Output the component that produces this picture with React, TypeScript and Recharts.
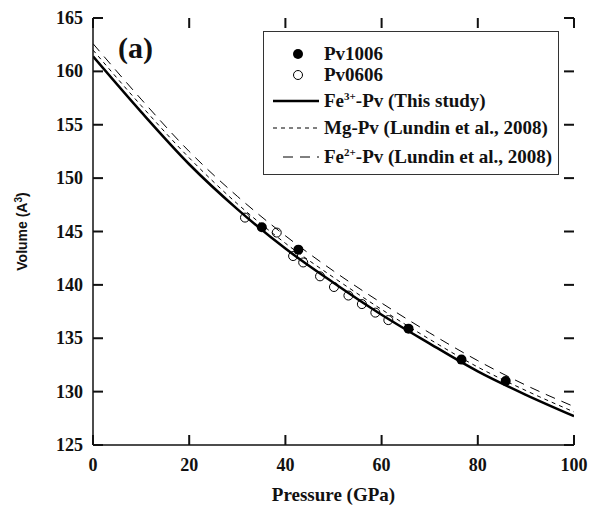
import {
  ComposedChart,
  Label,
  Legend,
  Line,
  Scatter,
  XAxis,
  YAxis,
} from 'recharts'

const pressureGrid = [0, 10, 20, 30, 40, 50, 60, 70, 80, 90, 100]
const fe3Volume = [161.4, 156.2, 151.3, 147.1, 143.4, 140.2, 137.2, 134.5, 131.9, 129.7, 127.7]
const mgVolume = [162.0, 156.8, 151.9, 147.6, 143.9, 140.7, 137.7, 134.9, 132.3, 130.1, 128.1]
const fe2Volume = [162.6, 157.4, 152.5, 148.3, 144.6, 141.3, 138.3, 135.5, 132.9, 130.6, 128.6]

const pv1006Pressure = [35.1, 42.7, 65.6, 76.6, 85.8]
const pv1006Volume = [145.4, 143.3, 135.9, 133.0, 131.0]

const pv0606Pressure = [31.6, 38.2, 41.6, 43.7, 47.2, 50.1, 53.1, 55.9, 58.7, 61.4]
const pv0606Volume = [146.3, 144.9, 142.7, 142.1, 140.8, 139.8, 139.0, 138.2, 137.4, 136.7]

const xTicks = [0, 20, 40, 60, 80, 100]
const yTicks = [125, 130, 135, 140, 145, 150, 155, 160, 165]

const curve = (vols: number[]) => pressureGrid.map((p, i) => ({ p, v: vols[i] }))
const points = (ps: number[], vs: number[]) => ps.map((p, i) => ({ p, v: vs[i] }))

const W = 594
const H = 513
const margin = { top: 18, right: 20, bottom: 8, left: 43 }
const Y_W = 50
const X_H = 60
const plotLeft = margin.left + Y_W
const plotRight = W - margin.right
const plotTop = margin.top
const plotBottom = H - margin.bottom - X_H

const serif = 'Liberation Serif'
const INK = '#111'
const TICK = 10
const TW = 2

// inward tick marks on all four sides, drawn from the bottom/left axes' ticks
const bottomTick = ({ x, y, payload }: any) => {
  const cx = Number(x)
  return (
    <g>
      <rect x={cx - TW / 2} y={plotBottom - TICK} width={TW} height={TICK} fill={INK} />
      <rect x={cx - TW / 2} y={plotTop} width={TW} height={TICK} fill={INK} />
      <text x={cx} y={Number(y) + 2} textAnchor="middle" fontFamily={serif} fontWeight="bold" fontSize={18} fill={INK}>
        {payload.value}
      </text>
    </g>
  )
}
const leftTick = ({ x, y, payload }: any) => {
  const cy = Number(y)
  return (
    <g>
      <rect x={plotLeft} y={cy - TW / 2} width={TICK} height={TW} fill={INK} />
      <rect x={plotRight - TICK} y={cy - TW / 2} width={TICK} height={TW} fill={INK} />
      <text x={Number(x)} y={cy + 6} textAnchor="end" fontFamily={serif} fontWeight="bold" fontSize={18} fill={INK}>
        {payload.value}
      </text>
    </g>
  )
}

const supStyle = { fontSize: 11, lineHeight: 0, verticalAlign: 'super' } as const

const legendRows = [
  { top: 22, kind: 'filled', text: <>Pv1006</> },
  { top: 43, kind: 'open', text: <>Pv0606</> },
  { top: 69, kind: 'solid', text: <>Fe<span style={supStyle}>3+</span>-Pv (This study)</> },
  { top: 96, kind: 'short', text: <>Mg-Pv (Lundin et al., 2008)</> },
  { top: 125, kind: 'long', text: <>Fe<span style={supStyle}>2+</span>-Pv (Lundin et al., 2008)</> },
]

function LegendBox() {
  return (
    <div
      style={{
        position: 'relative',
        width: 296,
        height: 144,
        boxSizing: 'border-box',
        border: '1.5px solid #333',
        background: '#fff',
        fontFamily: serif,
        fontWeight: 'bold',
        fontSize: 19,
        color: INK,
      }}
    >
      {legendRows.map((r) => (
        <div key={r.top} style={{ position: 'absolute', left: 0, top: r.top - 12, height: 24, width: 294 }}>
          <svg width={60} height={24} style={{ position: 'absolute', left: 0, top: 0 }}>
            {r.kind === 'filled' && <circle cx={34} cy={12} r={5} fill="#000" />}
            {r.kind === 'open' && <circle cx={34} cy={12} r={4.5} fill="#fff" stroke="#000" strokeWidth={1} />}
            {r.kind === 'solid' && <line x1={9} x2={55} y1={12} y2={12} stroke="#000" strokeWidth={2.5} />}
            {r.kind === 'short' && <line x1={9} x2={55} y1={12} y2={12} stroke="#000" strokeWidth={1} strokeDasharray="4 4" />}
            {r.kind === 'long' && <line x1={19} x2={55} y1={12} y2={12} stroke="#000" strokeWidth={1} strokeDasharray="10 7" />}
          </svg>
          <span style={{ position: 'absolute', left: 60, top: 0, lineHeight: '24px', whiteSpace: 'nowrap' }}>
            {r.text}
          </span>
        </div>
      ))}
    </div>
  )
}

export default function App() {
  return (
    <div style={{ position: 'absolute', left: 0, top: 0, width: W, height: H, background: '#fff' }}>
      <ComposedChart width={W} height={H} margin={margin}>
        <XAxis
          dataKey="p"
          type="number"
          domain={[0, 100]}
          ticks={xTicks}
          allowDataOverflow
          tickSize={0}
          tickMargin={24}
          height={X_H}
          tick={bottomTick}
          axisLine={{ stroke: INK, strokeWidth: 1.5 }}
        >
          <Label
            value="Pressure (GPa)"
            position="insideBottom"
            offset={4}
            style={{ fontFamily: serif, fontWeight: 'bold', fontSize: 19, fill: INK }}
          />
        </XAxis>
        <XAxis
          xAxisId="top"
          orientation="top"
          type="number"
          domain={[0, 100]}
          ticks={xTicks}
          height={0}
          tick={false}
          tickLine={false}
          axisLine={{ stroke: INK, strokeWidth: 1.5 }}
        />
        <YAxis
          type="number"
          domain={[125, 165]}
          ticks={yTicks}
          allowDataOverflow
          width={Y_W}
          tickSize={0}
          tickMargin={10}
          tick={leftTick}
          axisLine={{ stroke: INK, strokeWidth: 1.5 }}
        >
          <Label
            content={({ viewBox }: any) => {
              const cx = viewBox.x - 16
              const cy = viewBox.y + viewBox.height / 2
              return (
                <text
                  x={cx}
                  y={cy}
                  transform={`rotate(-90, ${cx}, ${cy})`}
                  textAnchor="middle"
                  style={{ fontFamily: 'Liberation Sans', fontWeight: 'bold', fontSize: 14, fill: INK }}
                >
                  Volume (A<tspan dy={-5} fontSize={10}>3</tspan><tspan dy={5}>)</tspan>
                </text>
              )
            }}
          />
        </YAxis>
        <YAxis
          yAxisId="right"
          orientation="right"
          type="number"
          domain={[125, 165]}
          ticks={yTicks}
          width={0}
          tick={false}
          tickLine={false}
          axisLine={{ stroke: INK, strokeWidth: 1.5 }}
        />
        <Legend
          layout="vertical"
          align="center"
          verticalAlign="middle"
          wrapperStyle={{ left: 263, top: 31, width: 296, height: 144 }}
          content={() => <LegendBox />}
        />
        <Line
          data={curve(fe2Volume)}
          dataKey="v"
          type="monotone"
          stroke="#000"
          strokeWidth={1}
          strokeDasharray="10 7"
          dot={false}
          isAnimationActive={false}
        />
        <Line
          data={curve(mgVolume)}
          dataKey="v"
          type="monotone"
          stroke="#000"
          strokeWidth={1}
          strokeDasharray="4 4"
          dot={false}
          isAnimationActive={false}
        />
        <Line
          data={curve(fe3Volume)}
          dataKey="v"
          type="monotone"
          stroke="#000"
          strokeWidth={2.5}
          dot={false}
          isAnimationActive={false}
        />
        <Scatter
          data={points(pv0606Pressure, pv0606Volume)}
          dataKey="v"
          isAnimationActive={false}
          shape={(props: any) => <circle cx={props.cx} cy={props.cy} r={4.5} fill="none" stroke="#000" strokeWidth={1} />}
        />
        <Scatter
          data={points(pv1006Pressure, pv1006Volume)}
          dataKey="v"
          isAnimationActive={false}
          shape={(props: any) => <circle cx={props.cx} cy={props.cy} r={5} fill="#000" />}
        />
        <text x={118} y={58} fontFamily={serif} fontWeight="bold" fontSize={30} fill={INK}>
          (a)
        </text>
      </ComposedChart>
    </div>
  )
}
